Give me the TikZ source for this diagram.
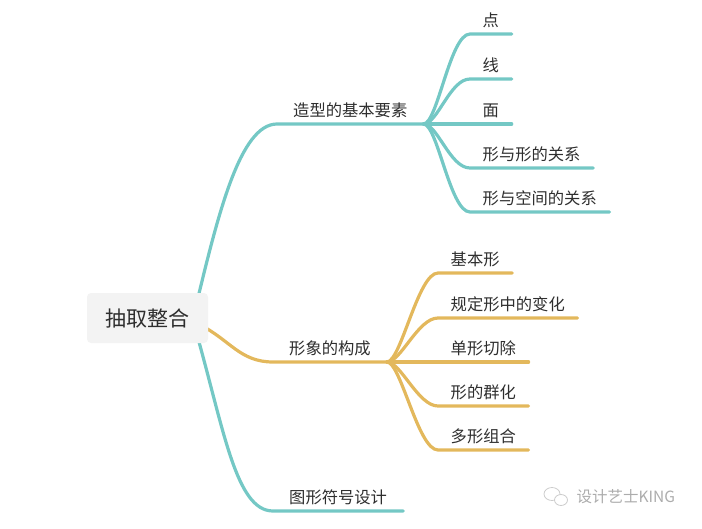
\documentclass[tikz,border=0pt]{standalone}
\usepackage{xcolor}
\usepackage{fontspec}
\setmainfont{Noto Sans CJK SC}
\usepackage{tikz}
\usetikzlibrary{positioning, calc}
\definecolor{tealline}{HTML}{74C8C5}
\definecolor{goldline}{HTML}{E3B85C}
\definecolor{rootgray}{HTML}{F3F3F3}
\definecolor{textgray}{HTML}{2E2E2E}
\pgfdeclarelayer{background}
\pgfsetlayers{background,main}

\begin{document}
\begin{tikzpicture}[x=1pt, y=-1pt,
    leaf/.style={anchor=south west, inner xsep=12.5pt, inner ysep=5pt,
                 text height=12pt, text depth=2pt, text=textgray,
                 font=\fontsize{16.3}{18}\selectfont},
    branch/.style={leaf, inner xsep=16pt},
    stem/.style={line width=3.2pt, line cap=round},
  ]
  \useasboundingbox (0,0) rectangle (702,528);

  % root
  \node[fill=rootgray, rounded corners=4pt, minimum width=121pt, minimum height=50pt,
        text=textgray, font=\fontsize{21}{24}\selectfont] (root) at (147.5,318) {抽取整合};

  % first level
  \node[branch] (model) at (277,124) {造型的基本要素};
  \node[branch] (image) at (273,362) {形象的构成};
  \node[branch] (sign) at (273,511) {图形符号设计};

  % leaves of the first branch
  \node[leaf] (dot) at (470,34) {点};
  \node[leaf] (line) at (470,79) {线};
  \node[leaf] (face) at (470,124) {面};
  \node[leaf] (shapes) at (470,168) {形与形的关系};
  \node[leaf] (space) at (470,212) {形与空间的关系};

  % leaves of the second branch
  \node[leaf] (basic) at (438,273) {基本形};
  \node[leaf] (change) at (438,318) {规定形中的变化};
  \node[leaf] (cut) at (438,362) {单形切除};
  \node[leaf] (group) at (438,406) {形的群化};
  \node[leaf] (combo) at (438,450) {多形组合};

  % watermark
  \node[text=gray!65, font=\fontsize{15.5}{18}\selectfont, anchor=west] (mark) at (573,497) {设计艺士KING};
  \draw[gray!40, line width=0.8pt] (552,494) ellipse (8pt and 6.5pt);
  \draw[gray!40, line width=0.8pt, fill=white] (561,500) ellipse (6.5pt and 5.5pt);

  \begin{pgfonlayer}{background}
    \draw[stem, tealline] ($(root.east)+(-12,-13)$) .. controls (218,215) and (240,124) .. (model.south west) -- (model.south east);
    \draw[stem, goldline] ($(root.east)+(-8,7)$) .. controls (230,340) and (240,362) .. (image.south west) -- (image.south east);
    \draw[stem, tealline] ($(root.east)+(-12,14)$) .. controls (224,430) and (236,511) .. (sign.south west) -- (sign.south east);

    \foreach \n in {dot, line, shapes, space}
      \draw[stem, tealline] (model.south east) .. controls +(14,0) and +(-20,0) .. (\n.south west) -- (\n.south east);
    \draw[stem, tealline] (model.south east) -- (face.south west) -- (face.south east);

    \foreach \n in {basic, change, group, combo}
      \draw[stem, goldline] (image.south east) .. controls +(14,0) and +(-20,0) .. (\n.south west) -- (\n.south east);
    \draw[stem, goldline] (image.south east) -- (cut.south west) -- (cut.south east);
  \end{pgfonlayer}
\end{tikzpicture}
\end{document}
